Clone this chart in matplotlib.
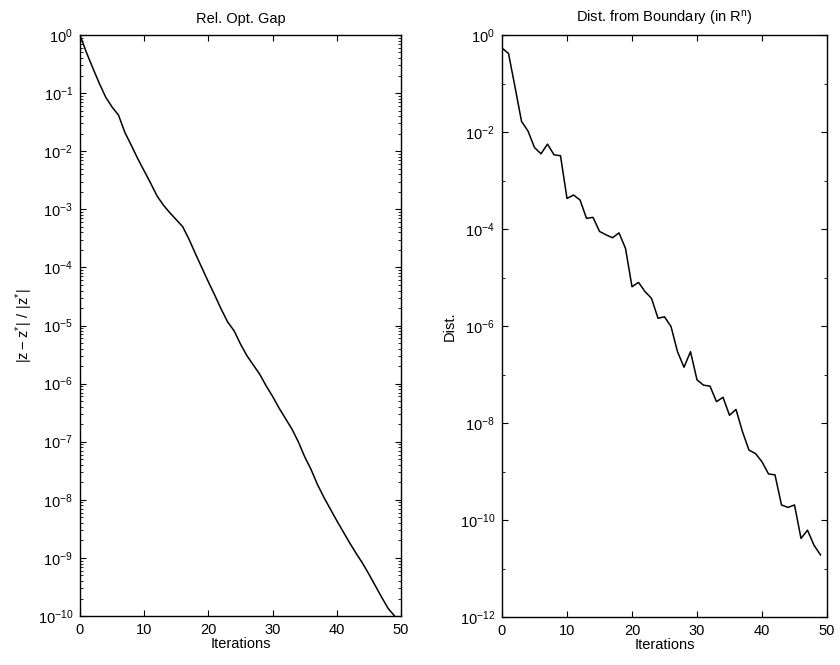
import numpy as np
import matplotlib
matplotlib.use("Agg")
import matplotlib.pyplot as plt
from matplotlib.ticker import LogLocator, MultipleLocator, NullFormatter, FixedLocator

plt.rcParams['font.family'] = ['Liberation Sans', 'DejaVu Sans']
plt.rcParams['mathtext.default'] = 'regular'

# iteraciones 0..49
iters = list(range(50))

# log10 de la brecha relativa de optimalidad
gap_log = [0.0, -0.30, -0.57, -0.83, -1.07, -1.24, -1.38, -1.68, -1.90, -2.13,
           -2.34, -2.55, -2.77, -2.93, -3.06, -3.18, -3.30, -3.52, -3.77, -4.01,
           -4.25, -4.48, -4.72, -4.94, -5.09, -5.32, -5.52, -5.68, -5.84, -6.04,
           -6.22, -6.42, -6.60, -6.78, -7.00, -7.26, -7.48, -7.74, -7.96, -8.16,
           -8.36, -8.55, -8.74, -8.92, -9.09, -9.28, -9.48, -9.68, -9.87, -10.0]

# log10 de la distancia a la frontera
dist_log = [-0.27, -0.38, -1.07, -1.78, -1.98, -2.32, -2.45, -2.25, -2.47, -2.49,
            -3.37, -3.30, -3.40, -3.78, -3.76, -4.05, -4.12, -4.18, -4.08, -4.40,
            -5.19, -5.10, -5.29, -5.43, -5.84, -5.81, -6.01, -6.53, -6.85, -6.53,
            -7.11, -7.22, -7.24, -7.56, -7.47, -7.84, -7.72, -8.18, -8.56, -8.63,
            -8.80, -9.05, -9.07, -9.69, -9.74, -9.69, -10.38, -10.21, -10.52, -10.72]

gap = [10 ** v for v in gap_log]
dist = [10 ** v for v in dist_log]

fig = plt.figure(figsize=(8.4, 6.65), dpi=100)
ax1 = fig.add_axes([80 / 840, 1 - 616 / 665, 321 / 840, 581 / 665])
ax2 = fig.add_axes([502 / 840, 1 - 617 / 665, 325 / 840, 582 / 665])

fs = 10.5

def estilo(ax):
    ax.tick_params(which='both', direction='in', top=True, right=True, labelsize=fs)
    ax.tick_params(which='major', length=4, width=0.8, pad=5)
    ax.tick_params(which='minor', length=2, width=0.6)
    ax.yaxis.set_minor_formatter(NullFormatter())
    for s in ax.spines.values():
        s.set_linewidth(1.0)
    ax.set_xlim(0, 50)
    ax.xaxis.set_major_locator(MultipleLocator(10))
    ax.set_xlabel('Iterations', fontsize=fs, labelpad=0)

ax1.semilogy(iters, gap, color='black', lw=1.1)
ax1.set_ylim(1e-10, 1)
ax1.set_yticks([10.0 ** -k for k in range(0, 11)])
menores1 = [m * 10.0 ** -k for k in range(1, 11) for m in range(2, 10)]
ax1.yaxis.set_minor_locator(FixedLocator(menores1))
estilo(ax1)
ax1.set_title('Rel. Opt. Gap', fontsize=fs, pad=9)
ax1.set_ylabel(r'$|z - z^{*}|\ /\ |z^{*}|$', fontsize=fs, labelpad=2)

ax2.semilogy(iters, dist, color='black', lw=1.1)
ax2.set_ylim(1e-12, 1)
ax2.set_yticks([10.0 ** -k for k in range(0, 13, 2)])
ax2.yaxis.set_minor_locator(FixedLocator([10.0 ** -k for k in range(1, 12, 2)]))
estilo(ax2)
ax2.set_title(r'Dist. from Boundary (in R$^n$)', fontsize=fs, pad=9)
ax2.set_ylabel('Dist.', fontsize=fs, labelpad=2)

fig.savefig('out.png', dpi=100)
